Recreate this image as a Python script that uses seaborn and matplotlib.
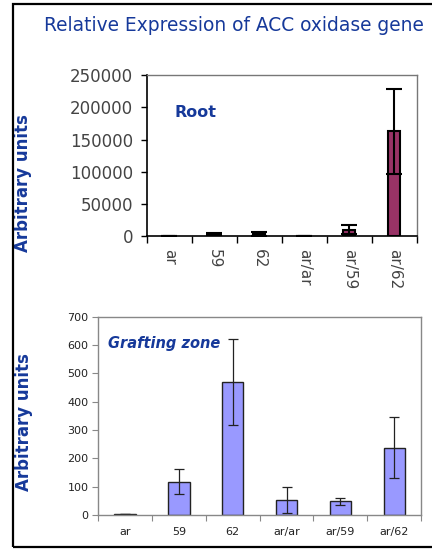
import numpy as np
import pandas as pd
import matplotlib
matplotlib.use("Agg")
import matplotlib.pyplot as plt
import matplotlib.patches as mpatches
import seaborn as sns

# %% Data
genotypes = ["ar", "59", "62", "ar/ar", "ar/59", "ar/62"]

root_values = [500, 3500, 3000, 400, 10000, 163000]
root_errors = [300, 1500, 3500, 200, 7000, 66000]

graft_values = [3, 117, 470, 52, 48, 238]
graft_errors = [1, 44, 153, 45, 12, 107]

root_df = pd.DataFrame({"genotype": genotypes, "value": root_values})
graft_df = pd.DataFrame({"genotype": genotypes, "value": graft_values})

blue = "#16399a"

sns.set_style("white")
plt.rcParams["font.family"] = ["DejaVu Sans"]

fig = plt.figure(figsize=(4.32, 5.49), dpi=100)

# outer frame
fig.patches.append(mpatches.Rectangle((0.029, 0.004), 1.0, 0.989, transform=fig.transFigure,
                                      fill=False, edgecolor="black", linewidth=1.6))

fig.text(0.542, 0.954, "Relative Expression of ACC oxidase gene", ha="center", va="center",
         fontsize=13.4, color=blue)

# %% Root
ax1 = fig.add_axes([0.340, 0.570, 0.625, 0.293])
sns.barplot(data=root_df, x="genotype", y="value", order=genotypes, color="#993366",
            edgecolor="black", linewidth=1.5, width=0.27, saturation=1, errorbar=None, ax=ax1)
ax1.errorbar(np.arange(len(genotypes)), root_values, yerr=root_errors, fmt="none",
             ecolor="black", elinewidth=1.5, capsize=6, capthick=1.5)
ax1.set_ylim(0, 250000)
ax1.set_xlim(-0.5, 5.5)
ax1.set_yticks(np.arange(0, 250001, 50000))
ax1.set_yticklabels([str(v) for v in range(0, 250001, 50000)], fontsize=12, color="#444444")
ax1.set_xticks(np.arange(-0.5, 6, 1))
ax1.set_xticklabels([])
ax1.set_xticks(np.arange(len(genotypes)), minor=True)
ax1.set_xticklabels(genotypes, minor=True, rotation=-90, fontsize=11, color="#444444")
ax1.tick_params(axis="x", which="minor", length=0, pad=9)
ax1.tick_params(axis="x", which="major", length=5, width=1, color="black", direction="out", bottom=True)
ax1.tick_params(axis="y", length=4, width=1, color="black", direction="out", left=True, pad=6)
ax1.set_xlabel("")
ax1.set_ylabel("Arbitrary units", fontsize=12, fontweight="bold", color=blue)
ax1.yaxis.set_label_coords(-0.425, 0.33)
for side in ["left", "bottom"]:
    ax1.spines[side].set_color("black")
    ax1.spines[side].set_linewidth(1.2)
for side in ["top", "right"]:
    ax1.spines[side].set_color("#777777")
    ax1.spines[side].set_linewidth(1)
ax1.text(0.104, 0.77, "Root", transform=ax1.transAxes, fontsize=11.5, fontweight="bold",
         color=blue, va="center")

# %% Grafting zone
ax2 = fig.add_axes([0.227, 0.062, 0.748, 0.361])
sns.barplot(data=graft_df, x="genotype", y="value", order=genotypes, color="#9999ff",
            edgecolor="#222222", linewidth=1, width=0.4, saturation=1, errorbar=None, ax=ax2)
ax2.errorbar(np.arange(len(genotypes)), graft_values, yerr=graft_errors, fmt="none",
             ecolor="#222222", elinewidth=0.9, capsize=3.5, capthick=0.9)
ax2.set_ylim(0, 700)
ax2.set_xlim(-0.5, 5.5)
ax2.set_yticks(np.arange(0, 701, 100))
ax2.set_yticklabels([str(v) for v in range(0, 701, 100)], fontsize=8, color="#222222")
ax2.set_xticks(np.arange(-0.5, 6, 1))
ax2.set_xticklabels([])
ax2.set_xticks(np.arange(len(genotypes)), minor=True)
ax2.set_xticklabels(genotypes, minor=True, fontsize=8, color="#222222")
ax2.tick_params(axis="x", which="minor", length=0, pad=9)
ax2.tick_params(axis="x", which="major", length=4, width=0.8, color="#888888", direction="out", bottom=True)
ax2.tick_params(axis="y", length=4, width=0.8, color="#888888", direction="out", left=True, pad=3)
ax2.set_xlabel("")
ax2.set_ylabel("Arbitrary units", fontsize=12, fontweight="bold", color=blue)
ax2.yaxis.set_label_coords(-0.2, 0.47)
for side in ["left", "bottom", "top", "right"]:
    ax2.spines[side].set_color("#888888")
    ax2.spines[side].set_linewidth(1)
ax2.text(0.031, 0.864, "Grafting zone", transform=ax2.transAxes, fontsize=10.5, fontweight="bold",
         fontstyle="italic", color=blue, va="center")

fig.savefig("out.png", dpi=100)
